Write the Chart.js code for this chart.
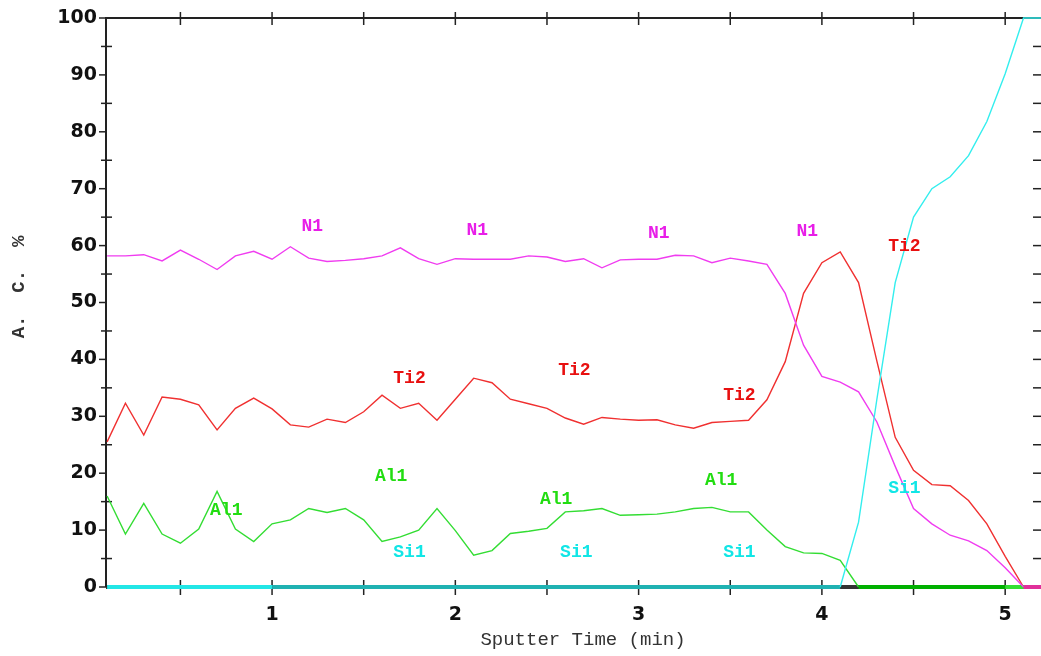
<!DOCTYPE html>
<html lang="en">
<head>
<meta charset="UTF-8">
<title>Sputter depth profile</title>
<script src="https://cdn.jsdelivr.net/npm/chart.js"></script>
<style>
    html, body { margin: 0; padding: 0; background: #ffffff; }
    #wrap { width: 1041px; height: 656px; }
</style>
</head>
<body>

<div id="wrap"><canvas id="myChart"></canvas></div>

<script>
    // sputter time (min)
    const times = [0.1, 0.2, 0.3, 0.4, 0.5, 0.6, 0.7, 0.8, 0.9, 1.0,
                   1.1, 1.2, 1.3, 1.4, 1.5, 1.6, 1.7, 1.8, 1.9, 2.0,
                   2.1, 2.2, 2.3, 2.4, 2.5, 2.6, 2.7, 2.8, 2.9, 3.0,
                   3.1, 3.2, 3.3, 3.4, 3.5, 3.6, 3.7, 3.8, 3.9, 4.0,
                   4.1, 4.2, 4.3, 4.4, 4.5, 4.6, 4.7, 4.8, 4.9, 5.0,
                   5.1, 5.2];

    // atomic concentration (%)
    const n1 = [58.2, 58.2, 58.4, 57.3, 59.2, 57.6, 55.8, 58.2, 59.0, 57.6,
                59.8, 57.8, 57.2, 57.4, 57.7, 58.2, 59.6, 57.7, 56.7, 57.7,
                57.6, 57.6, 57.6, 58.2, 58.0, 57.2, 57.7, 56.1, 57.5, 57.6,
                57.6, 58.3, 58.2, 57.0, 57.8, 57.3, 56.7, 51.6, 42.5, 37.0,
                36.0, 34.3, 29.0, 21.2, 13.8, 11.1, 9.1, 8.1, 6.4, 3.4,
                0, 0];
    const ti2 = [25.5, 32.3, 26.7, 33.4, 33.0, 32.0, 27.6, 31.4, 33.2, 31.3,
                 28.5, 28.1, 29.5, 28.9, 30.8, 33.7, 31.4, 32.3, 29.3, 33.0,
                 36.7, 35.9, 33.0, 32.2, 31.4, 29.7, 28.6, 29.8, 29.5, 29.3,
                 29.4, 28.5, 27.9, 28.9, 29.1, 29.3, 32.9, 39.6, 51.6, 57.0,
                 58.9, 53.5, 39.7, 26.3, 20.5, 18.0, 17.8, 15.2, 11.1, 5.4,
                 0, 0];
    const al1 = [16.0, 9.3, 14.7, 9.3, 7.7, 10.2, 16.8, 10.2, 8.0, 11.1,
                 11.8, 13.8, 13.1, 13.8, 11.8, 8.0, 8.8, 10.0, 13.8, 9.9,
                 5.6, 6.4, 9.4, 9.8, 10.3, 13.2, 13.4, 13.8, 12.6, 12.7,
                 12.8, 13.2, 13.8, 14.0, 13.2, 13.2, 10.0, 7.1, 6.0, 5.9,
                 4.7, 0, 0, 0, 0, 0, 0, 0, 0, 0,
                 0, 0];
    const si1 = [0, 0, 0, 0, 0, 0, 0, 0, 0, 0,
                 0, 0, 0, 0, 0, 0, 0, 0, 0, 0,
                 0, 0, 0, 0, 0, 0, 0, 0, 0, 0,
                 0, 0, 0, 0, 0, 0, 0, 0, 0, 0,
                 0, 11.4, 33.0, 53.5, 65.0, 70.0, 72.1, 75.8, 81.8, 90.2,
                 100, 100];

    const xTicks = [1, 2, 3, 4, 5];
    const yTicks = [0, 10, 20, 30, 40, 50, 60, 70, 80, 90, 100];

    // curve names written on the plot: [name, time, value]
    const tags = [
        ['N1', 1.22, 63.4], ['N1', 2.12, 62.6], ['N1', 3.11, 62.1], ['N1', 3.92, 62.4],
        ['Ti2', 1.75, 36.6], ['Ti2', 2.65, 38.0], ['Ti2', 3.55, 33.7], ['Ti2', 4.45, 59.8],
        ['Al1', 0.75, 13.5], ['Al1', 1.65, 19.5], ['Al1', 2.55, 15.3], ['Al1', 3.45, 18.8],
        ['Si1', 1.75, 6.0], ['Si1', 2.66, 6.0], ['Si1', 3.55, 6.0], ['Si1', 4.45, 17.4]
    ];
    const tagColors = { N1: '#e81ee8', Ti2: '#e81010', Al1: '#22dd11', Si1: '#11e6e6' };

    const isZero = c => c.p0.parsed.y === 0 && c.p1.parsed.y === 0;

    function series(label, values, color, zeroColor) {
        return {
            label: label,
            data: times.map((t, i) => ({ x: t, y: values[i] })),
            borderColor: color,
            borderWidth: 1.4,
            pointRadius: 0,
            tension: 0,
            clip: { left: 0, top: 4, right: 2, bottom: 4 },
            segment: {
                borderWidth: c => isZero(c) ? 4 : 1.4,
                borderColor: c => isZero(c) ? zeroColor(c) : color
            }
        };
    }

    const frame = {
        id: 'frame',
        beforeDatasetsDraw(chart) {
            const { ctx, chartArea: a, scales: { x, y } } = chart;
            const line = (x1, y1, x2, y2) => {
                ctx.beginPath(); ctx.moveTo(x1, y1); ctx.lineTo(x2, y2); ctx.stroke();
            };
            ctx.save();
            ctx.strokeStyle = '#333333';
            ctx.lineWidth = 4;
            line(a.left, a.bottom, a.right + 2, a.bottom);
            ctx.strokeStyle = '#222222';
            ctx.lineWidth = 2;
            line(a.left, a.top, a.right + 2, a.top);
            line(a.left, a.top - 1, a.left, a.bottom);
            ctx.lineWidth = 1.5;
            for (let v = 0; v <= 100; v += 5) {
                const py = y.getPixelForValue(v);
                if (v % 10 === 0) line(a.left - 7, py, a.left, py);
                else line(a.left - 5, py, a.left + 6, py);
                if (v > 0 && v < 100) line(a.right - 7, py, a.right + 2, py);
            }
            for (let t = 0.5; t <= 5; t += 0.5) {
                const px = x.getPixelForValue(t);
                line(px, a.bottom - 7, px, a.bottom + 8);
                line(px, a.top - 6, px, a.top + 7);
            }
            ctx.restore();
        },
        afterDatasetsDraw(chart) {
            const { ctx, chartArea: a, scales: { x, y } } = chart;
            ctx.save();
            ctx.textAlign = 'center';
            ctx.textBaseline = 'middle';
            ctx.font = 'bold 18px "Liberation Mono"';
            tags.forEach(([name, t, v]) => {
                ctx.fillStyle = tagColors[name];
                ctx.fillText(name, x.getPixelForValue(t), y.getPixelForValue(v));
            });

            ctx.fillStyle = '#333333';
            ctx.font = '19px "Liberation Mono"';
            ctx.fillText('Sputter Time (min)', 583, a.bottom + 53);
            ctx.font = 'bold 19px "Liberation Mono"';
            ctx.translate(19, 287);
            ctx.rotate(-Math.PI / 2);
            ctx.fillText('A.  C.  %', 0, 0);
            ctx.restore();
        }
    };

    const ctx = document.getElementById('myChart').getContext('2d');

    const chart = new Chart(ctx, {
        type: 'line',
        data: {
            datasets: [
                series('Si1', si1, '#33eeee', c => c.p0.parsed.x < 1 ? '#22e6e6' : '#1fb2b2'),
                series('N1', n1, '#f03cf0', c => '#e0309a'),
                series('Al1', al1, '#33dd33', c => c.p0.parsed.x >= 4.99 ? '#33e033' : '#00b000'),
                series('Ti2', ti2, '#f03030', c => '#e0309a')
            ]
        },
        options: {
            responsive: true,
            maintainAspectRatio: false,
            animation: false,
            layout: { padding: { top: 18, right: 1, left: 0, bottom: 0 } },
            plugins: {
                legend: { display: false },
                tooltip: { enabled: false }
            },
            scales: {
                x: {
                    type: 'linear',
                    min: 0.094,
                    max: 5.19,
                    grid: { display: false },
                    border: { display: false },
                    afterBuildTicks: s => { s.ticks = xTicks.map(v => ({ value: v })); },
                    afterFit: s => { s.height = 69; },
                    ticks: {
                        autoSkip: false,
                        maxRotation: 0,
                        padding: 9,
                        color: '#111111',
                        font: { family: 'DejaVu Sans', weight: 'bold', size: 19 },
                        callback: v => String(v)
                    }
                },
                y: {
                    min: 0,
                    max: 100,
                    grid: { display: false },
                    border: { display: false },
                    afterBuildTicks: s => { s.ticks = yTicks.map(v => ({ value: v })); },
                    afterFit: s => { s.width = 106; },
                    ticks: {
                        padding: 1,
                        color: '#111111',
                        font: { family: 'DejaVu Sans', weight: 'bold', size: 19 },
                        callback: v => String(v)
                    }
                }
            }
        },
        plugins: [frame]
    });
</script>

</body>
</html>
